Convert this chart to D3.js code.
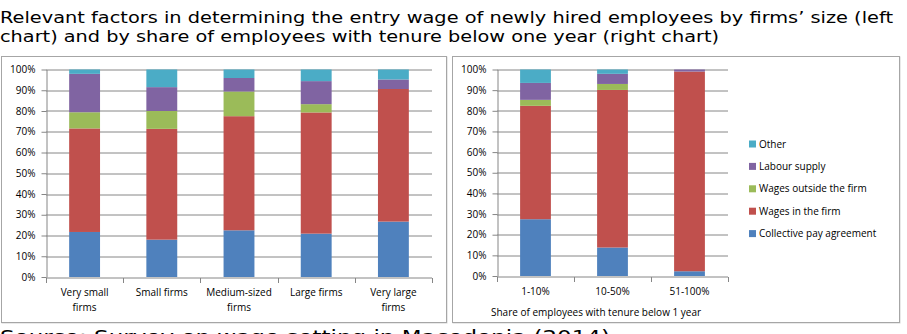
<!DOCTYPE html>
<html>
<head>
<meta charset="utf-8">
<script src="https://cdn.jsdelivr.net/npm/d3@7"></script>
<style>
  body { margin: 0; background: #fff; }
  svg text { font-family: "Open Sans", sans-serif; fill: #000; }
  .title { font-family: "DejaVu Sans", sans-serif; font-size: 16.5px; }
  .axis text { font-size: 10px; }
  .axis path, .axis line { stroke: #868686; }
  .grid line { stroke: #868686; }
</style>
</head>
<body>
<div id="chart"></div>
<script>

// Series (bottom to top of each stacked bar)
var seriesNames = ["Collective pay agreement", "Wages in the firm", "Wages outside the firm", "Labour supply", "Other"];
var seriesColors = ["#4F81BD", "#C0504D", "#9BBB59", "#8064A2", "#4BACC6"];

// Left chart: firms' size
var sizeCategories = ["Very small firms", "Small firms", "Medium-sized firms", "Large firms", "Very large firms"];
var sizeCollective = [21.7, 18.0, 22.5, 20.9, 26.7];
var sizeWagesIn    = [49.9, 53.4, 55.0, 58.4, 63.9];
var sizeWagesOut   = [7.8, 8.6, 11.9, 4.0, 0.0];
var sizeLabour     = [18.5, 11.5, 6.5, 11.1, 4.6];
var sizeOther      = [2.1, 8.5, 4.1, 5.6, 4.8];

// Right chart: share of employees with tenure below one year
var tenureCategories = ["1-10%", "10-50%", "51-100%"];
var tenureCollective = [27.5, 13.8, 2.3];
var tenureWagesIn    = [54.9, 76.3, 96.7];
var tenureWagesOut   = [2.9, 2.9, 0.0];
var tenureLabour     = [8.2, 4.9, 1.0];
var tenureOther      = [6.5, 2.1, 0.0];

var yTicks = [0, 10, 20, 30, 40, 50, 60, 70, 80, 90, 100];

var titleLines = [
  "Relevant factors in determining the entry wage of newly hired employees by firms\u2019 size (left",
  "chart) and by share of employees with tenure below one year (right chart)"
];
var sourceText = "Source: Survey on wage setting in Macedonia (2014)";

var width = 907, height = 334;

var svg = d3.select("#chart").append("svg")
  .attr("width", width)
  .attr("height", height);

// Title
svg.append("text").attr("class", "title")
  .attr("x", 0).attr("y", 23)
  .attr("textLength", 893).attr("lengthAdjust", "spacingAndGlyphs")
  .text(titleLines[0]);
svg.append("text").attr("class", "title")
  .attr("x", 0).attr("y", 42)
  .attr("textLength", 719).attr("lengthAdjust", "spacingAndGlyphs")
  .text(titleLines[1]);

// Source line (cut by the bottom of the picture, as in the original)
svg.append("text").attr("class", "title")
  .attr("x", 0).attr("y", 343)
  .style("font-size", "18px")
  .attr("textLength", 610).attr("lengthAdjust", "spacingAndGlyphs")
  .text(sourceText);

// Panel frames
function frame(x0, x1) {
  svg.append("rect")
    .attr("x", x0 + 1).attr("y", 57)
    .attr("width", x1 - x0).attr("height", 266)
    .attr("fill", "none").attr("stroke", "#d4d4d4");
  svg.append("rect")
    .attr("x", x0 + 0.5).attr("y", 56.5)
    .attr("width", x1 - x0).attr("height", 266)
    .attr("fill", "#fff").attr("stroke", "#a6a6a6");
}
frame(1, 446);
frame(452, 899);

function stackedChart(opts) {
  var rows = opts.categories.map(function(c, i) {
    var r = {cat: c};
    opts.series.forEach(function(s, j) { r[seriesNames[j]] = s[i]; });
    return r;
  });
  var stack = d3.stack().keys(seriesNames)(rows);

  var g = svg.append("g").attr("transform", "translate(" + opts.left + "," + opts.top + ")");

  var x = d3.scaleBand().domain(opts.categories).range([0, opts.w]).paddingInner(0.6).paddingOuter(0.3);
  var xb = d3.scaleBand().domain(opts.categories).range([0, opts.w]);
  var y = d3.scaleLinear().domain([0, 100]).range([opts.h, 0]);

  // gridlines
  g.append("g").attr("class", "grid")
    .selectAll("line").data(yTicks.slice(1)).enter().append("line")
    .attr("x1", 0).attr("x2", opts.w)
    .attr("y1", function(d) { return Math.round(y(d)) + 0.5; })
    .attr("y2", function(d) { return Math.round(y(d)) + 0.5; });

  // bars
  g.append("g").selectAll("g").data(stack).enter().append("g")
    .attr("fill", function(d, i) { return seriesColors[i]; })
    .selectAll("rect").data(function(d) { return d; }).enter().append("rect")
    .attr("x", function(d) { return x(d.data.cat); })
    .attr("width", x.bandwidth())
    .attr("y", function(d) { return y(d[1]); })
    .attr("height", function(d) { return y(d[0]) - y(d[1]); });

  // y axis
  g.append("g").attr("class", "axis")
    .attr("transform", "translate(0.5,0)")
    .call(d3.axisLeft(y).tickValues(yTicks).tickSize(5).tickSizeOuter(0).tickPadding(6)
      .tickFormat(function(d) { return d + "%"; }));

  // x axis with ticks at category boundaries
  var xa = g.append("g").attr("class", "axis")
    .attr("transform", "translate(0," + (Math.round(opts.h) + 0.5) + ")");
  xa.append("line").attr("x1", 0).attr("x2", opts.w);
  var bounds = opts.categories.map(function(c) { return xb(c); }).concat([opts.w]);
  xa.selectAll(".tk").data(bounds).enter().append("line").attr("class", "tk")
    .attr("x1", function(d) { return Math.round(d) + 0.5; })
    .attr("x2", function(d) { return Math.round(d) + 0.5; })
    .attr("y1", 0).attr("y2", 5);
  xa.selectAll(".lbl").data(opts.labels).enter().append("text").attr("class", "lbl")
    .attr("text-anchor", "middle")
    .attr("x", function(d, i) { return xb(opts.categories[i]) + xb.bandwidth() / 2; })
    .attr("y", 18)
    .selectAll("tspan").data(function(d) { return d; }).enter().append("tspan")
    .attr("x", function() { return d3.select(this.parentNode).attr("x"); })
    .attr("dy", function(d, i) { return i === 0 ? 0 : 15; })
    .text(function(d) { return d; });

  return g;
}

stackedChart({
  left: 46, top: 69.5, w: 386, h: 207.5,
  categories: sizeCategories,
  labels: [["Very small", "firms"], ["Small firms"], ["Medium-sized", "firms"], ["Large firms"], ["Very large", "firms"]],
  series: [sizeCollective, sizeWagesIn, sizeWagesOut, sizeLabour, sizeOther]
});

var right = stackedChart({
  left: 497, top: 69.5, w: 231, h: 206.5,
  categories: tenureCategories,
  labels: tenureCategories.map(function(c) { return [c]; }),
  series: [tenureCollective, tenureWagesIn, tenureWagesOut, tenureLabour, tenureOther]
});

right.append("text")
  .attr("x", 99).attr("y", 246)
  .attr("text-anchor", "middle")
  .style("font-size", "10px")
  .text("Share of employees with tenure below 1 year");

// Legend (top entry = last series)
var legend = svg.append("g").attr("transform", "translate(749,144)");
var legendItems = seriesNames.slice().reverse();
var legendColors = seriesColors.slice().reverse();
var li = legend.selectAll("g").data(legendItems).enter().append("g")
  .attr("transform", function(d, i) { return "translate(0," + (i * 22.4) + ")"; });
li.append("rect").attr("x", 0).attr("y", -3.5).attr("width", 7).attr("height", 7)
  .attr("fill", function(d, i) { return legendColors[i]; });
li.append("text").attr("x", 10).attr("y", 3.5).style("font-size", "10px")
  .text(function(d) { return d; });

</script>
</body>
</html>
